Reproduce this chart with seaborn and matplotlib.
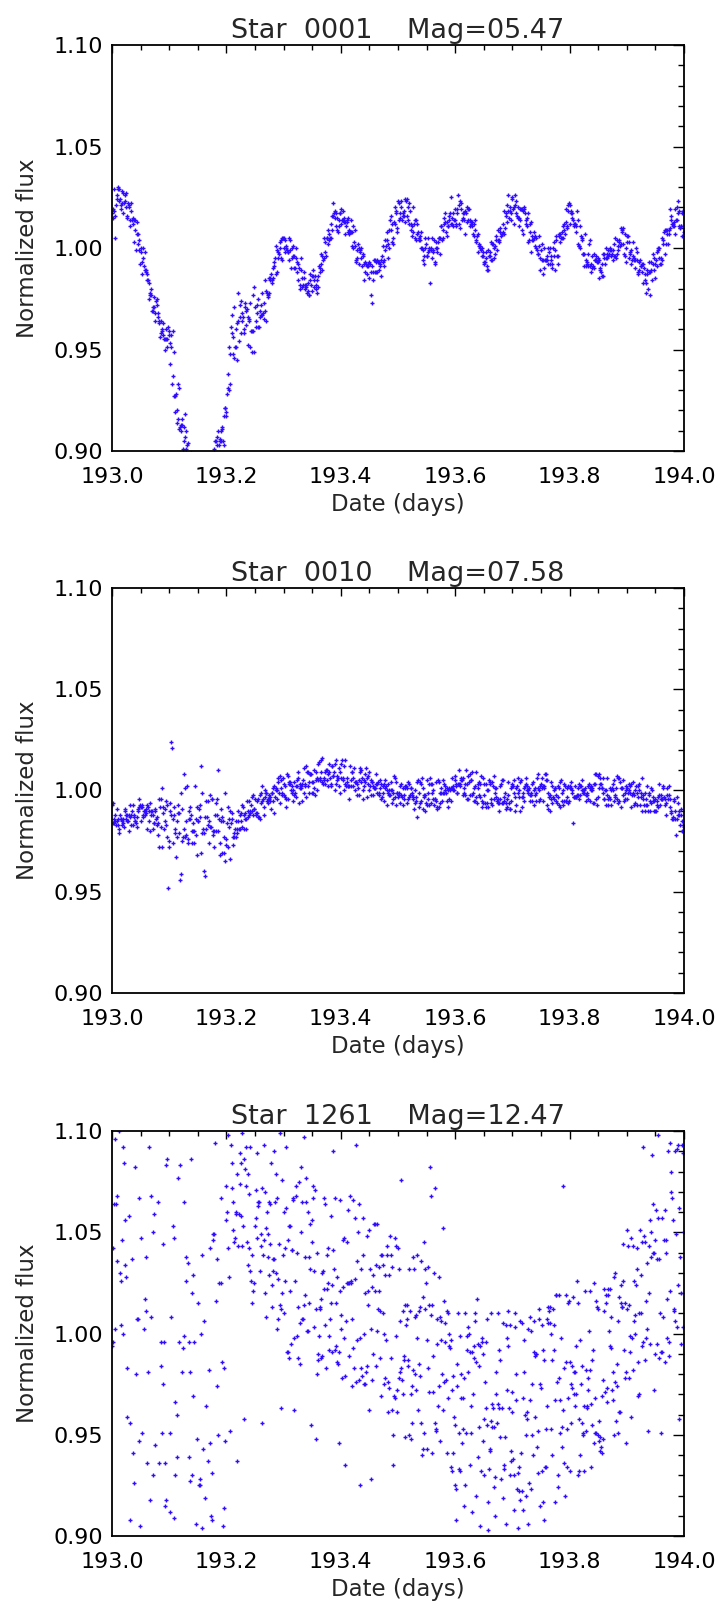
import numpy as np
import matplotlib
matplotlib.use("Agg")
import matplotlib.pyplot as plt
import seaborn as sns
from matplotlib.ticker import MultipleLocator, FormatStrFormatter

# flux in parts per thousand,
# one sample every 0.001 d from 193.000 to 194.000 (1001 samples per star)
flux_0001 = [
    1017, 1015, 1019, 1018, 1029, 1016, 1005, 1021, 1026, 1024, 1029, 1030, 1023, 1029, 1024, 1019, 1021, 1028, 1022, 1027, 1017, 1022, 1026, 1023, 1020,
    1027, 1015, 1016, 1022, 1021, 1020, 1014, 1011, 1018, 1022, 1014, 1012, 1015, 1014, 1003, 1009, 1014, 999, 1013, 1007, 1002, 1007, 1004, 999, 992,
    1000, 998, 993, 987, 1000, 995, 991, 998, 989, 989, 988, 987, 984, 984, 975, 983, 978, 977, 980, 977, 969, 971, 969, 976, 971,
    968, 964, 974, 972, 975, 968, 966, 964, 963, 956, 964, 958, 960, 959, 963, 957, 955, 955, 950, 955, 960, 951, 955, 961, 959,
    957, 953, 943, 951, 957, 933, 959, 937, 949, 927, 927, 919, 928, 920, 914, 916, 933, 931, 911, 912, 910, 913, 913, 916, 901,
    905, 912, 907, 918, 910, 901, 903, 892, 904, 887, 889, 890, 876, 899, 871, 876, 875, 873, 878, 869, 870, 872, 860, 863, 861,
    860, 868, 857, 858, 855, 858, 862, 859, 859, 854, 862, 859, 859, 859, 869, 874, 865, 873, 885, 876, 882, 882, 886, 878, 887,
    887, 891, 892, 895, 901, 905, 898, 905, 907, 903, 895, 910, 903, 906, 905, 910, 905, 911, 912, 905, 903, 917, 921, 921, 919,
    917, 928, 931, 938, 951, 930, 933, 948, 961, 958, 967, 956, 948, 971, 946, 951, 951, 960, 963, 945, 964, 978, 954, 966, 972,
    974, 958, 968, 964, 966, 958, 960, 973, 971, 969, 962, 970, 952, 966, 964, 965, 973, 951, 959, 959, 949, 977, 959, 981, 949,
    971, 961, 964, 968, 972, 975, 961, 961, 969, 966, 972, 967, 978, 967, 968, 965, 973, 984, 969, 964, 979, 978, 976, 977, 978,
    985, 985, 984, 987, 984, 983, 990, 985, 991, 993, 995, 987, 1001, 988, 999, 995, 998, 997, 1003, 1000, 1004, 995, 994, 1005, 1005,
    1005, 1000, 998, 1004, 1000, 1001, 999, 998, 998, 1005, 994, 1004, 999, 990, 1000, 995, 1001, 996, 990, 996, 990, 995, 1000, 988, 993,
    992, 984, 990, 982, 980, 995, 989, 981, 985, 982, 988, 985, 982, 980, 981, 982, 978, 983, 979, 977, 977, 987, 984, 982, 979,
    986, 989, 986, 984, 981, 986, 980, 982, 984, 978, 986, 981, 991, 990, 988, 992, 997, 989, 996, 994, 995, 1005, 1003, 998, 996,
    1005, 1005, 1009, 1002, 1004, 1007, 1005, 1012, 1005, 1009, 1016, 1016, 1022, 1017, 1015, 1018, 1011, 1017, 1015, 1009, 1008, 1014, 1011, 1017, 1017,
    1019, 1012, 1014, 1014, 1018, 1015, 1013, 1013, 1007, 1011, 1013, 1014, 1008, 1015, 1007, 1009, 1008, 1014, 1008, 1008, 1001, 1011, 1000, 1003, 1009,
    1001, 994, 993, 999, 995, 1002, 992, 1000, 999, 998, 1000, 995, 991, 997, 996, 992, 984, 988, 993, 992, 987, 991, 991, 992, 993,
    985, 992, 977, 988, 991, 973, 984, 988, 994, 994, 988, 988, 993, 988, 994, 993, 989, 993, 991, 992, 986, 994, 996, 993, 1001,
    991, 994, 1004, 999, 1001, 1008, 1004, 995, 1002, 1000, 1009, 1014, 1009, 1016, 1003, 1012, 1005, 1002, 1013, 1012, 1020, 1018, 1017, 1008, 1010,
    1023, 1022, 1014, 1017, 1015, 1023, 1020, 1014, 1016, 1017, 1018, 1016, 1013, 1024, 1023, 1024, 1016, 1014, 1020, 1012, 1022, 1018, 1009, 1012, 1006,
    1011, 1020, 1008, 1012, 1005, 1014, 1004, 1014, 1012, 1007, 1008, 1005, 1004, 1006, 1004, 1000, 1008, 1000, 999, 994, 996, 992, 1005, 1000, 1002,
    996, 996, 1005, 998, 1000, 999, 983, 999, 1000, 1005, 995, 998, 999, 1004, 993, 992, 1003, 1000, 1000, 998, 1003, 1005, 1005, 997, 1005,
    1011, 1011, 1004, 1009, 1005, 1015, 1012, 1013, 1017, 1008, 1013, 1006, 1011, 1011, 1016, 1014, 1017, 1012, 1025, 1015, 1012, 1017, 1011, 1014, 1019,
    1014, 1011, 1012, 1017, 1019, 1026, 1012, 1021, 1023, 1010, 1019, 1022, 1014, 1015, 1017, 1014, 1017, 1007, 1018, 1017, 1020, 1013, 1014, 1019, 1019,
    1014, 1011, 1012, 1013, 1013, 1011, 1007, 1006, 1012, 1014, 1009, 1004, 1003, 1006, 998, 1007, 1001, 1002, 1000, 1001, 999, 996, 1000, 996, 998,
    992, 993, 993, 995, 998, 991, 989, 999, 989, 996, 996, 998, 994, 1003, 994, 1002, 1002, 995, 1000, 997, 1001, 1004, 1006, 999, 1009,
    1004, 1004, 1003, 1008, 1010, 1006, 1007, 1007, 1008, 1012, 1018, 1007, 1010, 1016, 1017, 1013, 1021, 1026, 1018, 1015, 1018, 1020, 1017, 1014, 1025,
    1024, 1019, 1012, 1020, 1021, 1026, 1023, 1017, 1016, 1020, 1015, 1011, 1015, 1019, 1014, 1019, 1009, 1019, 1018, 1007, 1019, 1020, 1017, 1012, 1014,
    1015, 1011, 1003, 1017, 1004, 1008, 1012, 1013, 998, 1006, 1004, 1004, 1005, 1008, 1006, 1001, 1005, 1000, 999, 997, 997, 1006, 1001, 995, 989,
    999, 994, 1002, 994, 987, 1000, 990, 994, 994, 994, 996, 994, 992, 1000, 998, 1000, 992, 996, 994, 992, 990, 1000, 996, 1003, 989,
    999, 1006, 1004, 996, 992, 996, 1006, 1007, 1003, 1007, 1005, 1008, 1005, 1005, 1011, 1009, 1012, 1007, 1019, 1013, 1010, 1011, 1018, 1021, 1022,
    1021, 1012, 1017, 1018, 1015, 1017, 1014, 1011, 1012, 1012, 1012, 1008, 1011, 1018, 1002, 1014, 1001, 1001, 1000, 1011, 1006, 1004, 1005, 997, 997,
    997, 991, 1007, 991, 994, 993, 992, 997, 991, 1002, 1004, 991, 988, 992, 996, 990, 991, 990, 997, 994, 994, 994, 996, 993, 993,
    995, 994, 985, 989, 990, 988, 986, 992, 986, 997, 995, 997, 992, 995, 1000, 995, 997, 996, 999, 997, 999, 1000, 996, 999, 997,
    999, 994, 996, 1002, 996, 1005, 995, 997, 1004, 999, 1001, 1003, 1004, 1001, 1010, 1002, 1009, 1008, 1010, 1002, 997, 1007, 996, 993, 1000,
    1003, 1006, 1006, 995, 1003, 998, 997, 999, 992, 994, 996, 1003, 994, 995, 990, 994, 1000, 994, 998, 987, 988, 989, 993, 994, 991,
    991, 992, 988, 992, 983, 990, 987, 984, 983, 978, 989, 987, 980, 993, 988, 988, 977, 989, 993, 984, 997, 992, 989, 995, 992,
    985, 994, 991, 998, 1000, 999, 995, 1000, 992, 995, 992, 1005, 994, 1002, 1004, 1008, 1009, 997, 1002, 1009, 1007, 1009, 1002, 1009, 1007,
    1019, 1010, 1014, 1016, 1012, 1011, 1012, 1011, 1013, 1007, 1019, 1014, 1020, 1014, 1023, 1017, 1011, 1018, 1010, 1011, 1011, 1006, 1017, 1018, 1018,
    1008,
]

flux_0010 = [
    993, 984, 994, 984, 986, 985, 988, 983, 991, 985, 983, 986, 979, 981, 988, 986, 986, 983, 985, 986, 984, 982, 990, 991, 988,
    986, 985, 988, 985, 980, 988, 993, 987, 983, 988, 990, 993, 983, 987, 988, 985, 985, 984, 987, 982, 991, 990, 992, 996, 993,
    992, 985, 993, 992, 988, 987, 990, 988, 990, 991, 989, 981, 993, 992, 990, 985, 980, 994, 988, 990, 990, 981, 988, 984, 984,
    990, 991, 986, 983, 987, 978, 984, 996, 972, 992, 996, 982, 972, 1001, 992, 989, 981, 991, 985, 995, 983, 993, 977, 952, 975,
    972, 994, 990, 988, 1024, 1021, 986, 974, 992, 988, 981, 979, 967, 985, 977, 993, 989, 989, 979, 956, 999, 959, 991, 975, 977,
    1008, 981, 1001, 977, 985, 978, 1002, 974, 976, 986, 990, 992, 986, 988, 980, 974, 984, 980, 974, 980, 1002, 978, 986, 992, 968,
    985, 985, 991, 993, 987, 969, 1012, 979, 999, 981, 960, 979, 987, 958, 995, 981, 987, 995, 983, 985, 974, 982, 998, 982, 996,
    996, 980, 978, 980, 972, 988, 980, 994, 988, 996, 1010, 980, 986, 974, 968, 991, 985, 969, 987, 985, 977, 969, 999, 965, 973,
    976, 984, 992, 972, 982, 986, 990, 966, 984, 986, 989, 977, 973, 979, 977, 981, 977, 985, 979, 981, 990, 985, 981, 981, 988,
    989, 985, 982, 993, 992, 988, 981, 986, 989, 986, 981, 995, 990, 987, 988, 995, 989, 990, 993, 997, 990, 988, 998, 991, 991,
    996, 989, 988, 995, 989, 996, 987, 987, 986, 998, 999, 994, 995, 1002, 996, 992, 988, 997, 1000, 999, 999, 995, 994, 996, 998,
    996, 995, 997, 991, 999, 999, 1001, 995, 989, 1002, 997, 1001, 1000, 996, 1000, 1006, 1004, 999, 994, 1007, 1005, 1001, 998, 999, 1006,
    998, 1003, 997, 1002, 992, 996, 1008, 1007, 996, 1003, 1004, 1003, 1004, 1000, 1002, 999, 1000, 995, 1004, 998, 999, 997, 1002, 1005, 1002,
    1009, 1006, 994, 1001, 1003, 1001, 1002, 1003, 995, 1005, 999, 1011, 1002, 1003, 1012, 997, 1009, 1002, 1009, 999, 1004, 1008, 1008, 1008, 999,
    1004, 1004, 999, 1010, 1001, 998, 1009, 1005, 1000, 1006, 1013, 1005, 1014, 1006, 1005, 1015, 1009, 1004, 1016, 1003, 1005, 1006, 1003, 1009, 1010,
    1010, 1005, 1008, 1002, 1009, 1013, 1006, 1002, 1003, 1012, 1012, 1007, 1007, 1009, 1013, 1000, 1003, 1015, 1005, 1007, 1006, 1002, 1011, 999, 1009,
    1013, 1006, 1015, 1005, 1006, 1012, 1000, 1015, 1003, 1002, 1006, 1004, 1002, 1002, 1002, 996, 1012, 1002, 1005, 1009, 1009, 1002, 1006, 1011, 1004,
    1000, 1004, 1004, 998, 1003, 1001, 1005, 998, 1009, 1011, 1004, 1010, 1006, 1000, 996, 1005, 1002, 1008, 1004, 1011, 1006, 997, 1003, 1007, 1000,
    1009, 1002, 998, 1005, 1004, 1004, 1002, 998, 1001, 1001, 1001, 1008, 1003, 1003, 999, 1004, 998, 999, 1005, 1001, 1003, 996, 997, 999, 1002,
    995, 1003, 1001, 1005, 1002, 1000, 993, 999, 1003, 1000, 998, 998, 1004, 1000, 1000, 994, 996, 999, 1007, 1006, 997, 1004, 993, 999, 999,
    997, 998, 999, 1002, 994, 998, 1003, 997, 993, 1001, 998, 996, 1002, 1001, 1002, 1001, 994, 996, 1004, 1003, 997, 998, 1001, 1001, 998,
    999, 997, 996, 991, 994, 1000, 997, 995, 987, 1004, 1005, 999, 992, 1004, 994, 1003, 995, 1006, 991, 1001, 998, 997, 998, 990, 994,
    993, 1005, 996, 999, 1003, 993, 1006, 1003, 994, 999, 1003, 996, 1000, 993, 996, 996, 995, 1004, 992, 991, 1005, 992, 1004, 999, 994,
    1001, 999, 995, 1005, 999, 999, 1003, 1000, 1002, 999, 995, 1001, 992, 1000, 1001, 996, 1000, 995, 1001, 1001, 1006, 1000, 1002, 1000, 1007,
    1005, 1002, 1003, 999, 999, 1003, 1003, 1010, 1003, 1002, 1005, 1006, 1005, 998, 1006, 999, 1001, 1003, 998, 1010, 1003, 996, 996, 1007, 1004,
    998, 1008, 1005, 1005, 1009, 998, 999, 995, 1001, 1002, 995, 997, 1009, 994, 1003, 1001, 1004, 998, 1003, 997, 1007, 992, 995, 994, 1006,
    1003, 998, 994, 992, 1003, 994, 1000, 992, 1000, 1005, 1003, 1004, 996, 994, 993, 1004, 1002, 996, 1007, 1001, 999, 997, 1001, 995, 994,
    996, 990, 994, 1002, 996, 1003, 1005, 994, 1005, 994, 995, 997, 999, 994, 991, 992, 996, 998, 1004, 994, 991, 991, 1001, 995, 1002,
    1003, 1002, 999, 1005, 990, 997, 1001, 993, 1002, 1006, 999, 997, 1000, 990, 1004, 1005, 997, 992, 997, 999, 995, 1001, 1002, 1006, 1003,
    1002, 1000, 999, 1000, 1001, 998, 995, 999, 998, 1003, 995, 1004, 993, 1000, 998, 1001, 999, 995, 1006, 1001, 1008, 1000, 995, 996, 1002,
    1003, 1006, 1001, 995, 1002, 1001, 1002, 1008, 1008, 1005, 1005, 993, 991, 999, 997, 998, 990, 996, 1004, 994, 1002, 997, 996, 1000, 1001,
    1001, 998, 995, 994, 997, 1002, 1001, 993, 992, 1004, 1005, 995, 999, 1000, 993, 1003, 995, 1002, 995, 995, 997, 1001, 994, 1002, 995,
    1001, 1002, 1004, 1001, 999, 1000, 984, 997, 997, 997, 1002, 997, 997, 998, 1001, 998, 996, 1003, 998, 1002, 1002, 1005, 1000, 999, 1000,
    999, 1000, 1001, 998, 995, 999, 998, 1002, 996, 1003, 1001, 995, 1002, 1000, 1000, 1001, 994, 1003, 994, 1003, 1008, 1008, 996, 993, 1007,
    997, 1008, 1001, 1003, 1006, 1003, 1001, 1001, 999, 1006, 996, 996, 1000, 993, 1000, 998, 1006, 993, 996, 997, 1001, 996, 993, 1000, 1001,
    1003, 1000, 1005, 995, 998, 997, 1001, 996, 1007, 1006, 994, 1006, 995, 1004, 1001, 992, 1001, 1001, 998, 1005, 995, 999, 996, 1000, 1002,
    1001, 996, 999, 1000, 1003, 1002, 999, 992, 1003, 998, 1004, 999, 993, 998, 994, 1000, 1002, 993, 999, 997, 1002, 1003, 1000, 993, 999,
    997, 1006, 990, 998, 996, 993, 990, 999, 996, 993, 1002, 993, 990, 999, 998, 990, 995, 994, 1001, 1000, 995, 997, 990, 995, 990,
    996, 990, 993, 995, 997, 992, 1003, 998, 993, 998, 996, 996, 996, 1001, 1002, 997, 993, 996, 988, 994, 1001, 998, 996, 1002, 998,
    992, 996, 990, 989, 986, 986, 987, 995, 996, 990, 986, 978, 986, 997, 988, 994, 990, 988, 983, 988, 991, 985, 980, 983, 980,
    982,
]

flux_1261 = [
    994, 1042, 996, 1064, 1156, 1002, 1096, 1064, 1036, 1068, 1130, 1158, 1100, 1148, 1030, 1004, 1026, 1130, 1046, 1092, 1000, 1084, 1056, 1034, 1028,
    1151, 983, 959, 1115, 1166, 1058, 908, 956, 1136, 1142, 1037, 941, 1181, 1115, 926, 1082, 1181, 980, 1187, 1007, 1007, 1127, 1067, 947, 905,
    1047, 1125, 951, 882, 1167, 1101, 1002, 1158, 1017, 1011, 1038, 1146, 936, 981, 876, 1092, 1110, 918, 1068, 1008, 879, 1050, 930, 1125, 1059,
    945, 882, 1131, 1161, 1167, 1122, 1065, 936, 1104, 879, 984, 996, 1113, 951, 1044, 975, 996, 936, 915, 918, 1083, 888, 1086, 1101, 1152,
    1116, 951, 912, 1008, 1128, 879, 1137, 1053, 1047, 909, 966, 930, 1110, 939, 960, 885, 1077, 1158, 996, 1083, 894, 1143, 981, 1134, 993,
    999, 1065, 897, 1158, 1038, 1026, 897, 1035, 1134, 996, 939, 981, 927, 1086, 930, 1020, 969, 1029, 1152, 996, 897, 1125, 906, 948, 1110,
    1015, 1147, 925, 925, 928, 1111, 1000, 1039, 904, 943, 1129, 1006, 919, 886, 964, 1108, 886, 937, 1177, 982, 1129, 1042, 946, 910, 931,
    908, 1049, 1046, 1049, 1169, 1094, 1016, 1172, 1037, 974, 950, 1181, 1025, 1139, 1163, 1067, 1025, 1187, 986, 905, 983, 914, 947, 1160, 1073,
    1056, 1060, 1042, 1098, 1103, 1028, 952, 1106, 1093, 1072, 1084, 1051, 1065, 1112, 1045, 1047, 1059, 1060, 1079, 937, 1043, 1104, 1059, 1089, 1074,
    1084, 1058, 1099, 1043, 1053, 958, 1086, 1103, 1081, 1092, 1073, 1045, 1034, 1079, 1069, 1042, 1092, 1031, 1026, 1039, 1015, 1111, 1021, 1113, 1025,
    1053, 1057, 1071, 1047, 1089, 1063, 1065, 1065, 1104, 1031, 1043, 1049, 1072, 956, 1039, 1046, 1093, 1070, 1020, 1008, 1052, 1060, 1049, 1038, 1029,
    1065, 1064, 1044, 1084, 1024, 1013, 1037, 1031, 1090, 1037, 1065, 1030, 1079, 1002, 1067, 1007, 1027, 1044, 1099, 1014, 963, 1012, 1020, 1076, 1039,
    1060, 1010, 1026, 1042, 1092, 1062, 991, 991, 1046, 1053, 988, 1053, 1021, 995, 1041, 1041, 1067, 1066, 998, 962, 1026, 1068, 1073, 999, 1040,
    1013, 988, 1075, 1005, 985, 1082, 1050, 1007, 1065, 1007, 1097, 1014, 1038, 1019, 1065, 1077, 1001, 1060, 1001, 1038, 1015, 1054, 1032, 955, 1045,
    1056, 1067, 1073, 1003, 1031, 1071, 948, 1012, 1040, 980, 987, 990, 999, 1013, 1012, 988, 1017, 1030, 989, 1031, 1022, 1067, 1064, 1004, 983,
    1022, 1039, 1042, 1025, 999, 992, 1007, 1058, 1015, 991, 1024, 1041, 1090, 1032, 992, 1067, 1015, 994, 1028, 986, 985, 991, 946, 1066, 1021,
    1009, 1002, 978, 1023, 1046, 998, 1047, 979, 935, 1006, 1025, 1045, 1025, 1061, 1025, 989, 1068, 1025, 1026, 1007, 974, 1066, 993, 983, 1057,
    1027, 976, 1093, 1036, 997, 1050, 977, 1064, 998, 925, 1032, 983, 979, 1039, 1057, 1000, 975, 975, 1020, 981, 984, 1048, 1021, 1014, 1051,
    962, 1032, 1002, 928, 1023, 977, 990, 1029, 1054, 1054, 1021, 984, 1034, 1001, 1054, 1012, 1021, 1033, 988, 1011, 969, 1039, 1039, 1010, 1034,
    1000, 975, 1029, 978, 997, 1039, 1043, 961, 976, 973, 1029, 1048, 988, 1039, 962, 1033, 935, 950, 969, 968, 1047, 999, 1043, 961, 972,
    1042, 1032, 978, 981, 1006, 1076, 983, 977, 1011, 970, 989, 987, 949, 1014, 1004, 1014, 1007, 987, 984, 950, 1032, 1011, 948, 970, 956,
    974, 1038, 982, 1032, 980, 1008, 972, 1009, 1039, 998, 962, 985, 1011, 979, 1013, 956, 1036, 940, 1018, 943, 1045, 951, 1012, 1032, 1025,
    997, 943, 1033, 983, 971, 1014, 1082, 1068, 1009, 1014, 941, 989, 971, 1030, 956, 1072, 952, 953, 1007, 995, 964, 1028, 974, 947, 1008,
    997, 1006, 980, 1052, 962, 1016, 976, 996, 1005, 977, 1011, 941, 1010, 968, 994, 1000, 993, 934, 997, 972, 932, 979, 941, 959, 955,
    925, 908, 923, 974, 985, 1010, 933, 951, 999, 932, 968, 980, 946, 968, 953, 978, 915, 925, 1010, 951, 999, 992, 1003, 981, 1000,
    991, 935, 951, 964, 912, 991, 970, 988, 994, 1006, 1010, 986, 920, 1017, 939, 995, 954, 984, 905, 994, 932, 996, 998, 990, 947,
    930, 958, 976, 996, 963, 955, 1007, 903, 917, 933, 942, 943, 957, 1010, 965, 954, 963, 954, 924, 929, 910, 981, 970, 956, 1010,
    965, 992, 963, 949, 987, 928, 898, 963, 919, 1005, 935, 933, 949, 906, 1004, 972, 998, 1011, 994, 963, 930, 1004, 937, 942, 971,
    961, 938, 913, 930, 1003, 1010, 967, 980, 923, 931, 904, 922, 934, 1006, 918, 941, 922, 1005, 968, 913, 997, 981, 960, 920, 950,
    961, 958, 906, 1002, 926, 967, 1008, 1001, 923, 950, 975, 940, 1006, 991, 989, 959, 990, 990, 944, 931, 952, 1012, 1007, 975, 915,
    973, 932, 1004, 992, 917, 987, 908, 934, 934, 953, 964, 1007, 1005, 1013, 1011, 1013, 1005, 1000, 953, 987, 940, 1012, 992, 1004, 917,
    967, 1019, 1019, 976, 930, 924, 978, 1019, 967, 951, 998, 954, 944, 962, 1073, 936, 983, 920, 1019, 986, 953, 934, 968, 1015, 1016,
    986, 932, 956, 975, 973, 984, 1018, 970, 981, 981, 964, 970, 994, 1026, 930, 1015, 958, 932, 940, 997, 975, 956, 984, 950, 951,
    964, 932, 1021, 952, 982, 964, 963, 978, 972, 1001, 1021, 982, 934, 965, 987, 955, 992, 946, 1025, 968, 951, 951, 1016, 1013, 950,
    1012, 957, 947, 949, 942, 944, 941, 969, 948, 977, 1011, 1022, 971, 1019, 1015, 973, 966, 1019, 1022, 1001, 994, 1022, 1008, 993, 972,
    981, 967, 950, 1028, 976, 1030, 957, 985, 974, 951, 1006, 961, 1018, 961, 1024, 1015, 1013, 1013, 1044, 1026, 992, 1015, 978, 946, 981,
    1012, 1051, 1043, 978, 1014, 991, 999, 1047, 959, 998, 982, 1043, 1026, 1006, 1000, 1009, 1024, 1042, 1032, 986, 969, 970, 1010, 1051, 1010,
    1029, 994, 1045, 1092, 996, 1048, 1045, 987, 998, 1016, 1002, 1035, 952, 1043, 1020, 1056, 995, 1038, 1050, 1088, 1064, 1040, 972, 1040, 1046,
    990, 1061, 995, 1037, 1098, 1057, 988, 1037, 1010, 951, 991, 1057, 991, 1105, 1008, 1046, 1061, 986, 1040, 1046, 998, 1017, 1090, 989, 996,
    1094, 1021, 1070, 1080, 1067, 1056, 1118, 1011, 1012, 1006, 1090, 1049, 1091, 1003, 1093, 1024, 958, 1062, 1038, 1020, 995, 1102, 1093, 1003, 1089,
    1050,
]

star_ids = ["0001", "0010", "1261"]
star_mags = ["05.47", "07.58", "12.47"]
date_start, date_end = 193.0, 194.0

sns.set_style("white")
plt.rcParams["font.family"] = ["DejaVu Sans"]

BLUE = "#2f0bff"


def tracer_courbe(ax, flux, star, mag):
    flux = np.array(flux) / 1000.0
    dates = np.linspace(date_start, date_end, len(flux))
    sns.scatterplot(x=dates, y=flux, ax=ax, marker="+", s=8, color=BLUE,
                    linewidth=1.0, legend=False)
    ax.set_xlim(date_start, date_end)
    ax.set_ylim(0.90, 1.10)
    ax.xaxis.set_major_locator(MultipleLocator(0.2))
    ax.xaxis.set_minor_locator(MultipleLocator(0.05))
    ax.yaxis.set_major_locator(MultipleLocator(0.05))
    ax.yaxis.set_minor_locator(MultipleLocator(0.01))
    ax.xaxis.set_major_formatter(FormatStrFormatter("%.1f"))
    ax.yaxis.set_major_formatter(FormatStrFormatter("%.2f"))
    ax.tick_params(axis="both", which="both", direction="in", top=True, right=True,
                   width=1.0, colors="black", labelsize=16)
    ax.tick_params(axis="x", which="major", length=6, pad=11.5)
    ax.tick_params(axis="x", which="minor", length=3.5)
    ax.tick_params(axis="y", which="major", length=8, pad=6.5)
    ax.tick_params(axis="y", which="minor", length=4)
    for sp in ax.spines.values():
        sp.set_linewidth(1.3)
        sp.set_color("black")
    ax.set_xlabel("Date (days)", fontsize=16.5, labelpad=4)
    ax.set_ylabel("Normalized flux", fontsize=16.5, labelpad=10.5)
    ax.set_title(f"Star  {star}    Mag={mag}", fontsize=19.5, pad=4.7)


fig = plt.figure(figsize=(7.2, 16.07), dpi=100)
positions = [
    [0.15556, 0.71935, 0.79444, 0.25264],
    [0.15556, 0.38208, 0.79444, 0.25202],
    [0.15556, 0.04418, 0.79444, 0.25202],
]
series = [flux_0001, flux_0010, flux_1261]

for pos, flux, star, mag in zip(positions, series, star_ids, star_mags):
    ax = fig.add_axes(pos)
    tracer_courbe(ax, flux, star, mag)

fig.savefig("out.png", dpi=100)
plt.close(fig)
